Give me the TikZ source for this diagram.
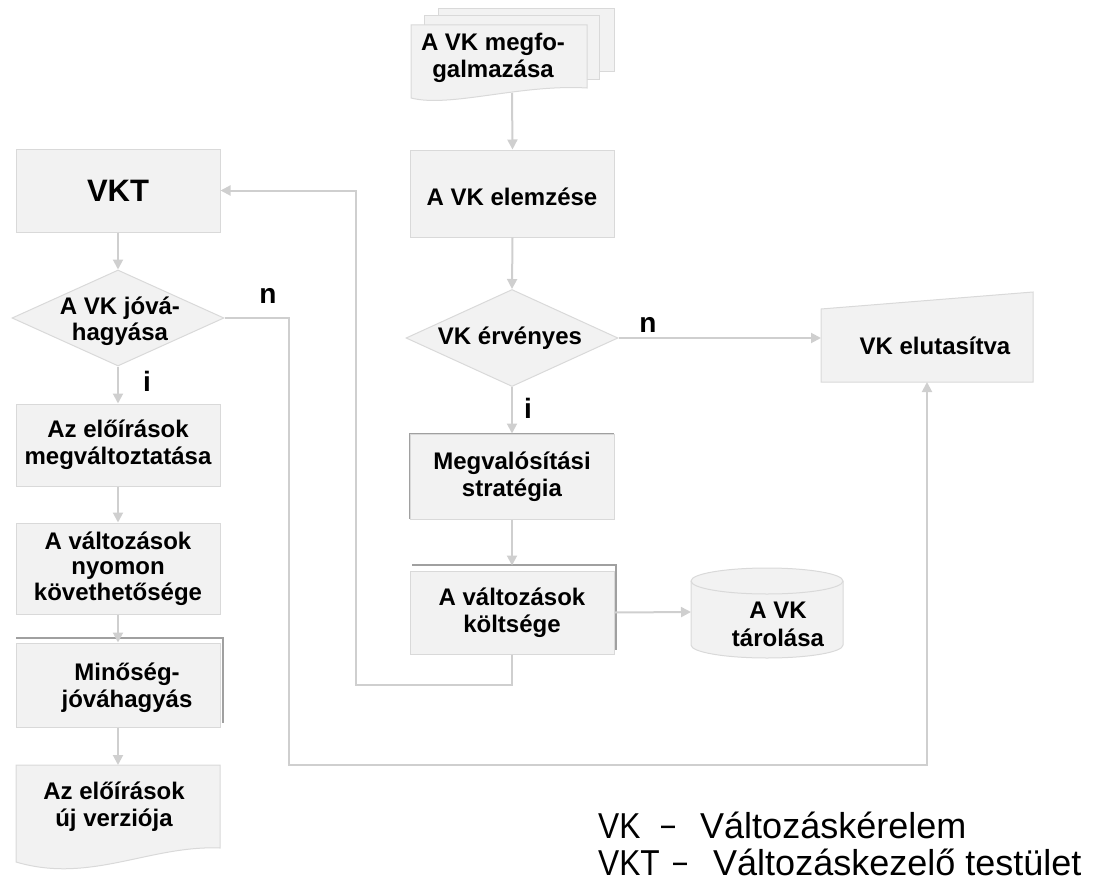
\documentclass[tikz,border=0pt]{standalone}
\usepackage{fontspec}
\setmainfont{Liberation Sans}
\usetikzlibrary{arrows.meta,shapes.geometric,calc}
\definecolor{fillc}{HTML}{F2F2F2}
\definecolor{edgec}{HTML}{D9D9D9}
\definecolor{linec}{HTML}{CFCFCF}
\definecolor{darkedge}{HTML}{A0A0A0}
\begin{document}
\begin{tikzpicture}[x=1pt,y=-1pt,
  box/.style={draw=edgec, fill=fillc, line width=1pt, minimum width=204pt, inner sep=0pt, align=center, font=\bfseries\fontsize{24}{27}\selectfont},
  shp/.style={draw=edgec, fill=fillc, line width=1pt},
  frame/.style={draw=darkedge, line width=1.3pt},
  txt/.style={align=center, inner sep=0pt, font=\bfseries\fontsize{24}{27}\selectfont},
  arr/.style={draw=linec, line width=2pt, -{Triangle[length=10pt,width=10pt]}},
  ln/.style={draw=linec, line width=2pt},
  lbl/.style={inner sep=0pt, font=\bfseries\fontsize{28}{30}\selectfont},
  leg/.style={inner sep=0pt, anchor=base west, font=\fontsize{36}{37}\selectfont},
  legab/.style={inner sep=0pt, anchor=base west, xscale=0.88, transform shape, font=\fontsize{36}{37}\selectfont},
  legdash/.style={inner sep=0pt, anchor=base west, xscale=0.7, transform shape, font=\fontsize{36}{37}\selectfont}]
\useasboundingbox (0,0) rectangle (1114,883);

% multi-document
\draw[shp] (438,9) rectangle (614,72);
\draw[shp] (424,16) rectangle (599,80);
\draw[shp] (411,25) -- (587,25) -- (587,88) .. controls (520,84) and (450,108) .. (411,98) -- cycle;
\node[txt] (md) at (493,58) {A VK megfo-\\galmazása};
\coordinate (mds) at (512,93);

% right column
\node[box, minimum height=87pt] (elemz) at (512.5,193.5) {};
\node[txt] (elemzt) at (512,197) {A VK elemzése};
\node[shp, diamond, minimum width=212pt, minimum height=97pt, inner sep=0pt] (d1) at (512,338) {};
\node[txt] (d1t) at (510,338) {VK érvényes};

\draw[shp] (821,309) -- (1033,292) -- (1033,382) -- (821,382) -- cycle;
\node[txt] (elut) at (935,346) {VK elutasítva};
\coordinate (elutw) at (821,338);
\coordinate (eluts) at (927,382);

\draw[frame] (410,519) -- (410,434) -- (614,434);
\node[box, minimum height=85pt] (strat) at (512,476.5) {Megvalósítási\\stratégia};

\draw[frame] (412,565) -- (616,565) -- (616,650);
\node[box, minimum height=83pt] (kolts) at (512,612.5) {A változások\\költsége};

% cylinder
\draw[shp] (691,581) -- (691,645) arc[start angle=180, end angle=360, x radius=76pt, y radius=13pt] -- (843,581) arc[start angle=0, end angle=180, x radius=76pt, y radius=13pt] -- cycle;
\draw[shp, fill=none] (691,581) arc[start angle=180, end angle=360, x radius=76pt, y radius=13pt];
\node[txt, font=\bfseries\fontsize{24}{28}\selectfont] (cyl) at (778,624) {A VK\\tárolása};
\coordinate (cylw) at (691,612);

% left column
\node[box, minimum height=83pt, font=\bfseries\fontsize{31}{34}\selectfont] (vkt) at (118,190.5) {VKT};
\node[shp, diamond, minimum width=212pt, minimum height=96pt, inner sep=0pt] (d2) at (118,318) {};
\node[txt, font=\bfseries\fontsize{24}{25.5}\selectfont] (d2t) at (120,321) {A VK jóvá-\\hagyása};

\node[box, minimum height=82pt] (modos) at (118,445) {Az előírások\\megváltoztatása};
\node[box, minimum height=91pt, font=\bfseries\fontsize{24}{25.5}\selectfont] (nyomon) at (118,568.5) {A változások\\nyomon\\követhetősége};

\draw[frame] (16,638) -- (223,638) -- (223,723);
\node[box, minimum height=84pt] (minoseg) at (118,685) {};
\node[txt] (minosegt) at (127,688) {Minőség-\\jóváhagyás};

\draw[shp] (16,765) -- (220,765) -- (220,848) .. controls (150,845) and (90,884) .. (16,862) -- cycle;
\coordinate (docn) at (118,765);
\node[txt] (doc) at (114,807) {Az előírások\\új verziója};

% connectors
\draw[arr] (mds) -- (elemz.north);
\draw[arr] (elemz.south) -- (d1.north);
\draw[arr] (d1.east) -- (elutw);
\node[lbl] (n1) at (648,325) {n};
\draw[arr] (d1.south) -- (strat.north);
\node[lbl] (i1) at (528,408) {i};
\draw[arr] (strat.south) -- ([yshift=5pt]kolts.north);
\draw[arr] (kolts.east) -- (cylw);
\coordinate (c1) at (512,685);
\coordinate (c2) at (356,685);
\draw[arr] (kolts.south) -- (c1) -- (c2) |- (vkt.east);

\draw[arr] (vkt.south) -- (d2.north);
\coordinate (c3) at (289,765);
\draw[arr] (d2.east) -| (c3) -| (eluts);
\node[lbl] (n2) at (268,296) {n};
\draw[arr] (d2.south) -- (modos.north);
\node[lbl] (i2) at (147,381) {i};
\draw[arr] (modos.south) -- (nyomon.north);
\draw[arr] (nyomon.south) -- (minoseg.north);
\draw[arr] (minoseg.south) -- (docn);

% legend
\node[legab] (l1a) at (598,838) {VK};
\node[legdash] (l1b) at (661,836) {–};
\node[leg] (l1c) at (700,838) {Változáskérelem};
\node[legab] (l2a) at (598,875) {VKT};
\node[legdash] (l2b) at (673,873) {–};
\node[leg] (l2c) at (713,875) {Változáskezelő testület};
\end{tikzpicture}
\end{document}
